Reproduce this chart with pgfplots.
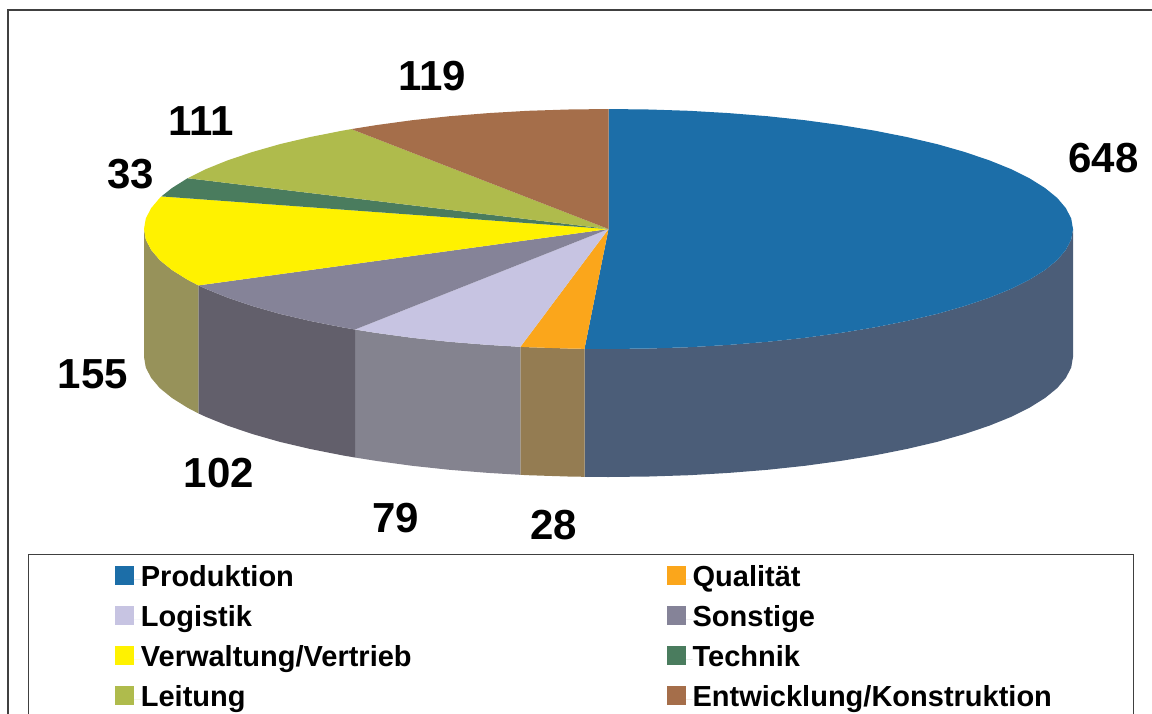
\documentclass[border=0pt]{standalone}
\usepackage{pgfplots}
\pgfplotsset{compat=1.18}
\usepackage{fontspec}
\setmainfont{Liberation Sans}
\definecolor{cBlue}{HTML}{1C6EA8}
\definecolor{cOrange}{HTML}{FBA61B}
\definecolor{cLav}{HTML}{C7C4E2}
\definecolor{cGrey}{HTML}{858398}
\definecolor{cYellow}{HTML}{FFF200}
\definecolor{cGreen}{HTML}{4A7C5E}
\definecolor{cOlive}{HTML}{AFBB4C}
\definecolor{cBrown}{HTML}{A56E4A}
\definecolor{sBlue}{HTML}{4B5D78}
\definecolor{sOrange}{HTML}{947C52}
\definecolor{sLav}{HTML}{84838F}
\definecolor{sGrey}{HTML}{625F6B}
\definecolor{sYellow}{HTML}{97925A}
\definecolor{frame}{HTML}{404040}
\newcommand{\lab}[2]{\node[inner sep=0pt,anchor=center,font=\fontsize{42}{42}\selectfont\bfseries] at (axis cs:#1) {#2};}
\begin{document}
\begin{tikzpicture}
\path[use as bounding box] (0,0) rectangle (1152pt,713pt);
\clip (0,0) rectangle (1152pt,713pt);
\begin{axis}[
  at={(0,0)},anchor=south west,
  scale only axis,width=1152pt,height=713pt,
  xmin=0,xmax=1152,ymin=0,ymax=713,y dir=reverse,
  hide axis,clip=false,
  legend columns=2,
  legend image code/.code={\fill[#1] (0pt,-5pt) rectangle (19pt,14pt);\path (19pt,0pt) -- (26pt,0pt);},
  legend cell align=left,
  legend style={
    at={(axis cs:27.5,553.5)},anchor=north west,
    draw=frame,line width=0.8pt,fill=white,
    inner xsep=87pt,inner ysep=12pt,
    row sep=13pt,
    nodes={font=\fontsize{29}{29}\selectfont\bfseries,inner sep=0pt,text height=20pt,text depth=6pt},
    /tikz/every even column/.append style={column sep=255pt},
  },
]
% outer frame
\addplot[draw=frame,line width=1.5pt,forget plot] coordinates {(8,900)(8,10)(1300,10)};
% side walls
\addplot[fill=sBlue,draw=none,forget plot] coordinates {(1073,229)(1071.2,239.5)(1065.9,249.8)(1057.2,260.1)(1045,270)(1029.5,279.7)(1010.8,289)(989,297.8)(964.3,306.1)(937,313.9)(907.1,320.9)(874.9,327.3)(840.75,332.9)(804.8,337.8)(767.4,341.8)(728.7,344.9)(689.2,347.2)(649,348.5)(608.5,349)(584.5,348.8)(584.5,476.8)(608.5,477)(649,476.5)(689.2,475.2)(728.7,472.9)(767.4,469.8)(804.8,465.8)(840.75,460.9)(874.9,455.3)(907.1,448.9)(937,441.9)(964.3,434.1)(989,425.8)(1010.8,417)(1029.5,407.7)(1045,398)(1057.2,388.1)(1065.9,377.8)(1071.2,367.5)(1073,357)};
\addplot[fill=sOrange,draw=none,forget plot] coordinates {(584.5,348.8)(568,348.5)(527.8,347.2)(520.4,346.8)(520.4,474.8)(527.8,475.2)(568,476.5)(584.5,476.8)};
\addplot[fill=sLav,draw=none,forget plot] coordinates {(520.4,346.8)(488.3,344.9)(449.6,341.8)(412.2,337.8)(376.25,332.9)(355,329.5)(355,457.5)(376.25,460.9)(412.2,465.8)(449.6,469.8)(488.3,472.9)(520.4,474.8)};
\addplot[fill=sGrey,draw=none,forget plot] coordinates {(355,329.5)(342.1,327.3)(309.9,320.9)(280,313.9)(252.7,306.1)(228,297.8)(206.2,289)(198.4,285.4)(198.4,413.4)(206.2,417)(228,425.8)(252.7,434.1)(280,441.9)(309.9,448.9)(342.1,455.3)(355,457.5)};
\addplot[fill=sYellow,draw=none,forget plot] coordinates {(198.4,285.4)(187.5,279.7)(172,270)(159.8,260.1)(151.1,249.8)(145.8,239.5)(144,229)(144,357)(145.8,367.5)(151.1,377.8)(159.8,388.1)(172,398)(187.5,407.7)(198.4,413.4)};
% top face
\addplot[fill=cBlue,draw=none] coordinates {(608.5,229)(608.5,109)(649,109.5)(689.2,110.8)(728.7,113.1)(767.4,116.2)(804.8,120.2)(840.75,125.1)(874.9,130.7)(907.1,137.1)(937,144.1)(964.3,151.9)(989,160.2)(1010.8,169)(1029.5,178.3)(1045,188)(1057.2,197.9)(1065.9,208.2)(1071.2,218.5)(1073,229)(1071.2,239.5)(1065.9,249.8)(1057.2,260.1)(1045,270)(1029.5,279.7)(1010.8,289)(989,297.8)(964.3,306.1)(937,313.9)(907.1,320.9)(874.9,327.3)(840.75,332.9)(804.8,337.8)(767.4,341.8)(728.7,344.9)(689.2,347.2)(649,348.5)(608.5,349)(584.5,348.8)};
\addlegendentry{Produktion}
\addplot[fill=cOrange,draw=none] coordinates {(608.5,229)(584.5,348.8)(568,348.5)(527.8,347.2)(520.4,346.8)};
\addlegendentry{Qualität}
\addplot[fill=cLav,draw=none] coordinates {(608.5,229)(520.4,346.8)(488.3,344.9)(449.6,341.8)(412.2,337.8)(376.25,332.9)(355,329.5)};
\addlegendentry{Logistik}
\addplot[fill=cGrey,draw=none] coordinates {(608.5,229)(355,329.5)(342.1,327.3)(309.9,320.9)(280,313.9)(252.7,306.1)(228,297.8)(206.2,289)(198.4,285.4)};
\addlegendentry{Sonstige}
\addplot[fill=cYellow,draw=none] coordinates {(608.5,229)(198.4,285.4)(187.5,279.7)(172,270)(159.8,260.1)(151.1,249.8)(145.8,239.5)(144,229)(145.8,218.5)(151.1,208.2)(159.8,197.9)(161.4,196.4)};
\addlegendentry{Verwaltung/Vertrieb}
\addplot[fill=cGreen,draw=none] coordinates {(608.5,229)(161.4,196.4)(172,188)(187.6,178.2)};
\addlegendentry{Technik}
\addplot[fill=cOlive,draw=none] coordinates {(608.5,229)(187.6,178.2)(206.2,169)(228,160.2)(252.7,151.9)(280,144.1)(309.9,137.1)(342.1,130.7)(351.4,129.1)};
\addlegendentry{Leitung}
\addplot[fill=cBrown,draw=none] coordinates {(608.5,229)(351.4,129.1)(376.25,125.1)(412.2,120.2)(449.6,116.2)(488.3,113.1)(527.8,110.8)(568,109.5)(608.5,109)};
\addlegendentry{Entwicklung/Konstruktion\kern-6pt}
\lab{1103.5,158}{648}
\lab{432,76}{119}
\lab{201,121}{111}
\lab{130.5,174}{33}
\lab{93,374}{155}
\lab{219,473}{102}
\lab{395.5,518}{79}
\lab{554,525}{28}
\end{axis}
\end{tikzpicture}
\end{document}
